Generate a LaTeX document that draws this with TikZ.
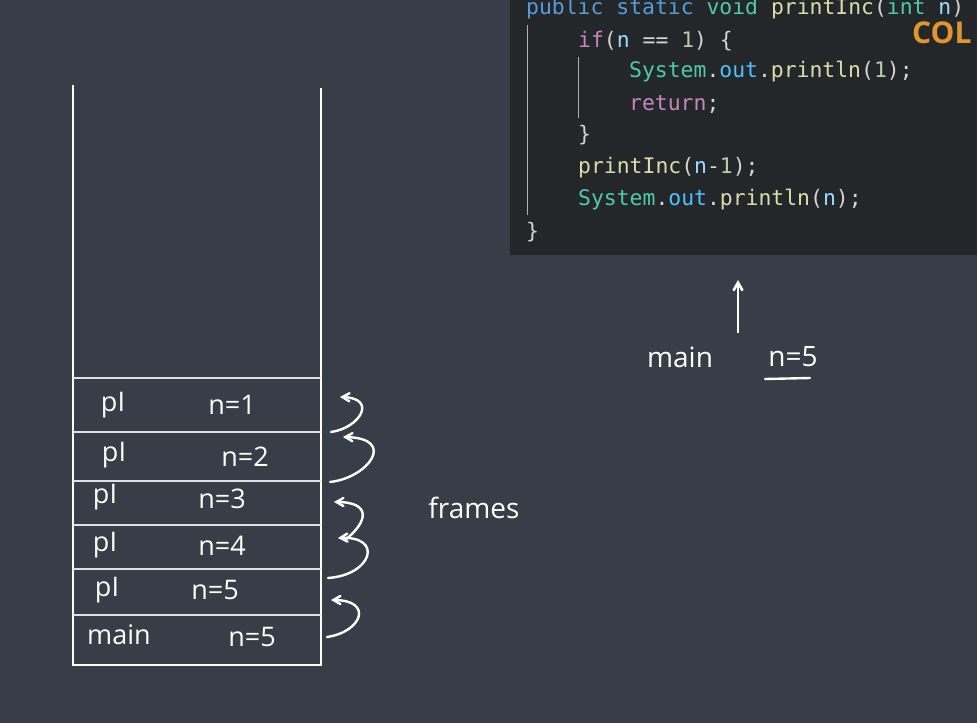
\documentclass[tikz,border=0pt]{standalone}
\usepackage{fontspec}
\setmainfont{Open Sans}
\setmonofont{DejaVu Sans Mono}
\usepackage{tikz}
\usetikzlibrary{arrows,positioning}

\definecolor{bgcol}{HTML}{373E47}
\definecolor{codebg}{HTML}{24272A}
\definecolor{kwblue}{HTML}{569CD6}
\definecolor{tyteal}{HTML}{4EC9B0}
\definecolor{fnyellow}{HTML}{DCDCAA}
\definecolor{varblue}{HTML}{9CDCFE}
\definecolor{ctlpink}{HTML}{C586C0}
\definecolor{numgreen}{HTML}{B5CEA8}
\definecolor{fieldblue}{HTML}{4FC1FF}
\definecolor{punct}{HTML}{D4D4D4}
\definecolor{logoorange}{HTML}{E0962A}

\newcommand{\kw}[1]{\textcolor{kwblue}{#1}}
\newcommand{\ty}[1]{\textcolor{tyteal}{#1}}
\newcommand{\fn}[1]{\textcolor{fnyellow}{#1}}
\newcommand{\vr}[1]{\textcolor{varblue}{#1}}
\newcommand{\ctl}[1]{\textcolor{ctlpink}{#1}}
\newcommand{\num}[1]{\textcolor{numgreen}{#1}}
\newcommand{\fld}[1]{\textcolor{fieldblue}{#1}}

\begin{document}
\begin{tikzpicture}[x=1pt,y=-1pt,>=angle 60,
  code node/.style={anchor=west,inner sep=0pt,text=punct,font=\ttfamily\fontsize{21.4}{26}\selectfont},
  frame node/.style={inner sep=0pt,text=white,font=\fontsize{27}{32}\selectfont},
  hand note/.style={inner sep=0pt,text=white,font=\fontsize{28}{33}\selectfont},
  wall/.style={draw=white,line width=2.6pt},
  sep line/.style={draw=white!88!black,line width=2pt},
  curl/.style={->,draw=white,line width=2.4pt,line cap=round}]
  \useasboundingbox (0,0) rectangle (977,723);
  \clip (0,0) rectangle (977,723);
  \fill[bgcol] (0,0) rectangle (977,723);

  % code panel
  \fill[codebg] (510,-5) rectangle (980,255);
  \draw[gray!60,line width=0.8pt] (527,25) -- (527,215);
  \draw[gray!60,line width=0.8pt] (578,57) -- (578,118);
  \node[code node] (c1) at (526,9) {\kw{public} \kw{static} \ty{void} \fn{printInc}(\ty{int} \vr{n})};
  \node[code node] (c2) at (578,41) {\ctl{if}(\vr{n} == \num{1}) \{};
  \node[code node] (c3) at (629,72) {\ty{System}.\fld{out}.\fn{println}(\num{1});};
  \node[code node] (c4) at (629,104) {\ctl{return};};
  \node[code node] (c5) at (578,135) {\}};
  \node[code node] (c6) at (578,168) {\fn{printInc}(\vr{n}-\num{1});};
  \node[code node] (c7) at (578,200) {\ty{System}.\fld{out}.\fn{println}(\vr{n});};
  \node[code node] (c8) at (526,232) {\}};
  \node[anchor=west,inner sep=0pt,text=logoorange,font=\bfseries\fontsize{30}{34}\selectfont] (logo) at (912,33) {COL};

  % call stack
  \coordinate (tl) at (73,85);
  \coordinate (tr) at (321,88);
  \coordinate (bl) at (73,665);
  \coordinate (br) at (321,665);
  \draw[wall] (tl) -- (bl) -- (br) -- (tr);
  \foreach \y in {378,432,481,525,569,615}
    \draw[sep line] (73,\y) -- (321,\y);

  \node[frame node] (p1) at (113,405) {pI};
  \node[frame node] (n1) at (232,405) {n=1};
  \node[frame node] (p2) at (114,455) {pI};
  \node[frame node] (n2) at (245,457) {n=2};
  \node[frame node] (p3) at (105,497) {pI};
  \node[frame node] (n3) at (222,499) {n=3};
  \node[frame node] (p4) at (105,545) {pI};
  \node[frame node] (n4) at (222,546) {n=4};
  \node[frame node] (p5) at (107,590) {pI};
  \node[frame node] (n5) at (215,590) {n=5};
  \node[frame node] (m6) at (119,635) {main};
  \node[frame node] (n6) at (252,637) {n=5};

  % return arrows
  \coordinate (a1s) at (331,432);
  \coordinate (a1e) at (340,397);
  \coordinate (a2s) at (330,482);
  \coordinate (a2e) at (343,437);
  \coordinate (a3s) at (345,540);
  \coordinate (a3e) at (334,502);
  \coordinate (a4s) at (328,578);
  \coordinate (a4e) at (338,538);
  \coordinate (a5s) at (327,637);
  \coordinate (a5e) at (331,600);
  \draw[curl] (a1s) .. controls (360,428) and (378,398) .. (a1e);
  \draw[curl] (a2s) .. controls (368,478) and (398,438) .. (a2e);
  \draw[curl] (a3s) .. controls (368,522) and (372,502) .. (a3e);
  \draw[curl] (a4s) .. controls (372,575) and (384,536) .. (a4e);
  \draw[curl] (a5s) .. controls (362,632) and (374,600) .. (a5e);

  \node[hand note] (fr) at (474,508) {frames};

  % current call
  \node[hand note] (mn) at (680,357) {main};
  \node[hand note] (mv) at (793,357) {n=5};
  \draw[white,line width=2.4pt,line cap=round] (765,379) -- (810,378);
  \coordinate (up) at (738,333);
  \draw[->,white,line width=2.6pt] (up) -- ++(0,-53);
\end{tikzpicture}
\end{document}
